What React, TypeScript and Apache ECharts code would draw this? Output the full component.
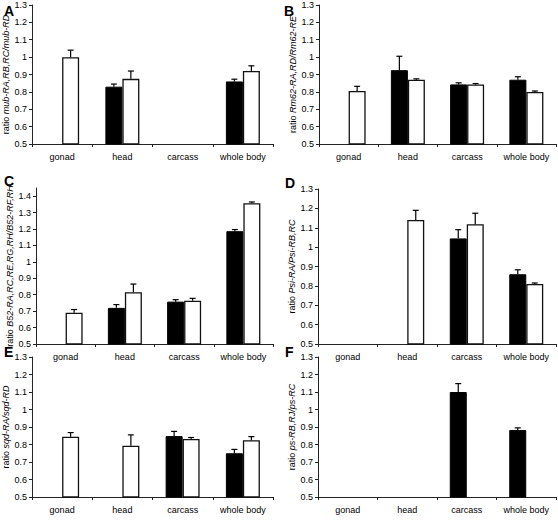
import React, { useEffect, useRef } from "react";
import * as echarts from "echarts";

const categories = ["gonad", "head", "carcass", "whole body"];

const aBlack = [null, 0.83, null, 0.86];
const aBlackErr = [null, 0.015, null, 0.013];
const aWhite = [1.0, 0.875, null, 0.92];
const aWhiteErr = [0.04, 0.045, null, 0.03];

const bBlack = [null, 0.925, 0.843, 0.87];
const bBlackErr = [null, 0.08, 0.009, 0.017];
const bWhite = [0.805, 0.87, 0.843, 0.8];
const bWhiteErr = [0.027, 0.005, 0.005, 0.005];

const cBlack = [null, 0.72, 0.758, 1.187];
const cBlackErr = [null, 0.02, 0.012, 0.01];
const cWhite = [0.69, 0.815, 0.763, 1.357];
const cWhiteErr = [0.02, 0.05, 0.015, 0.008];

const dBlack = [null, null, 1.045, 0.86];
const dBlackErr = [null, null, 0.045, 0.023];
const dWhite = [null, 1.14, 1.118, 0.81];
const dWhiteErr = [null, 0.05, 0.057, 0.005];

const eBlack = [null, null, 0.848, 0.75];
const eBlackErr = [null, null, 0.027, 0.022];
const eWhite = [0.845, 0.793, 0.832, 0.825];
const eWhiteErr = [0.023, 0.062, 0.008, 0.02];

const fBlack = [null, null, 1.1, 0.883];
const fBlackErr = [null, null, 0.048, 0.012];
const fWhite = [null, null, null, null];
const fWhiteErr = [null, null, null, null];

const panelLetters = ["A", "B", "C", "D", "E", "F"];
const yGenes = [
  "mub-RA,RB,RC/mub-RD",
  "Rm62-RA,RD/Rm62-RE",
  "B52-RA,RC,RE,RG,RH/B52-RF,RH",
  "Psi-RA/Psi-RB,RC",
  "sqd-RA/sqd-RD",
  "ps-RB,RJ/ps-RC",
];
const yMax = [1.3, 1.3, 1.45, 1.3, 1.3, 1.3];

const panels = [
  { black: aBlack, blackErr: aBlackErr, white: aWhite, whiteErr: aWhiteErr },
  { black: bBlack, blackErr: bBlackErr, white: bWhite, whiteErr: bWhiteErr },
  { black: cBlack, blackErr: cBlackErr, white: cWhite, whiteErr: cWhiteErr },
  { black: dBlack, blackErr: dBlackErr, white: dWhite, whiteErr: dWhiteErr },
  { black: eBlack, blackErr: eBlackErr, white: eWhite, whiteErr: eWhiteErr },
  { black: fBlack, blackErr: fBlackErr, white: fWhite, whiteErr: fWhiteErr },
];

const grids = [
  { left: 32, top: 5, width: 241, height: 139 },
  { left: 319, top: 5, width: 237, height: 139 },
  { left: 36, top: 188, width: 237, height: 156 },
  { left: 318, top: 189, width: 238, height: 155 },
  { left: 32, top: 357, width: 241, height: 140 },
  { left: 318, top: 357, width: 238, height: 140 },
];
const letterPos = [
  [4, 4], [284, 4], [4, 174], [285, 176], [4, 345], [285, 345],
];

const FONT = "Liberation Sans, Arial, sans-serif";
const BAR_W = 17;

function errSeries(idx: number, vals: any[], errs: any[], offset: number) {
  const data = vals.map((v, i) => (v == null || errs[i] == null ? [i, null, null] : [i, v, errs[i]]));
  return {
    type: "custom",
    xAxisIndex: idx,
    yAxisIndex: idx,
    z: 5,
    data,
    renderItem: (params: any, api: any) => {
      const v = api.value(1);
      const e = api.value(2);
      if (v == null || isNaN(v)) return null;
      const p0 = api.coord([api.value(0), v]);
      const p1 = api.coord([api.value(0), v + e]);
      const x = p0[0] + offset;
      const style = { stroke: "#000", lineWidth: 1.2 };
      return {
        type: "group",
        children: [
          { type: "line", shape: { x1: x, y1: p0[1], x2: x, y2: p1[1] }, style },
          { type: "line", shape: { x1: x - 3, y1: p1[1], x2: x + 3, y2: p1[1] }, style },
        ],
      };
    },
  };
}

export default function App() {
  const ref = useRef<HTMLDivElement>(null);
  useEffect(() => {
    document.body.style.margin = "0";
    const chart = echarts.init(ref.current!, null, { renderer: "svg" });
    const series: any[] = [];
    panels.forEach((p, i) => {
      series.push({
        type: "bar",
        xAxisIndex: i,
        yAxisIndex: i,
        data: p.black,
        barWidth: BAR_W,
        barGap: "0%",
        itemStyle: { color: "#000", borderColor: "#000", borderWidth: 1 },
      });
      series.push({
        type: "bar",
        xAxisIndex: i,
        yAxisIndex: i,
        data: p.white,
        barWidth: BAR_W,
        barGap: "0%",
        itemStyle: { color: "#fff", borderColor: "#111", borderWidth: 1.3 },
      });
      series.push(errSeries(i, p.black, p.blackErr, -BAR_W / 2));
      series.push(errSeries(i, p.white, p.whiteErr, BAR_W / 2));
    });
    const option: any = {
      animation: false,
      textStyle: { fontFamily: FONT },
      grid: grids.map((g) => ({ ...g, containLabel: false })),
      xAxis: grids.map((_, i) => ({
        type: "category",
        gridIndex: i,
        data: categories,
        axisLine: { lineStyle: { color: "#222", width: 1 } },
        axisTick: { show: true, length: 3, inside: false, lineStyle: { color: "#222" } },
        axisLabel: { color: "#000", fontSize: 9, fontFamily: FONT, margin: 8, interval: 0 },
      })),
      yAxis: grids.map((_, i) => ({
        type: "value",
        gridIndex: i,
        min: 0.5,
        max: yMax[i],
        interval: 0.1,
        splitLine: { show: false },
        axisLine: { show: true, lineStyle: { color: "#222", width: 1 } },
        axisTick: { show: true, length: 3, lineStyle: { color: "#222" } },
        axisLabel: {
          color: "#000",
          fontSize: 9,
          fontFamily: FONT,
          margin: 5,
          showMaxLabel: yMax[i] === 1.3,
          formatter: (v: number) => String(Math.round(v * 10) / 10),
        },
        name: "{n|ratio }{i|" + yGenes[i] + "}",
        nameLocation: "middle",
        nameRotate: 90,
        nameGap: 22,
        nameTextStyle: {
          rich: {
            n: { fontSize: 9, fontFamily: FONT, color: "#000" },
            i: { fontSize: 9, fontFamily: FONT, fontStyle: "italic", color: "#000" },
          },
        },
      })),
      graphic: panelLetters.map((l, i) => ({
        type: "text",
        left: letterPos[i][0],
        top: letterPos[i][1],
        style: { text: l, font: "bold 14px " + FONT, fill: "#000" },
      })),
      series,
    };
    chart.setOption(option);
    return () => chart.dispose();
  }, []);
  return <div ref={ref} style={{ position: "absolute", left: 0, top: 0, width: 558, height: 524 }} />;
}
